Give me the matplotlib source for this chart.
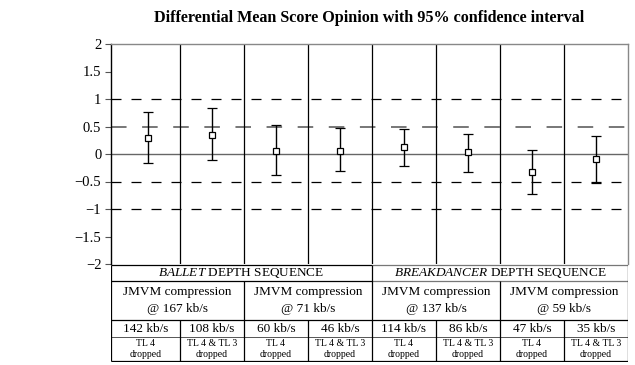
import matplotlib
matplotlib.use("Agg")
import matplotlib.pyplot as plt

plt.rcParams['font.family'] = ['Liberation Serif', 'DejaVu Serif']
plt.rcParams['mathtext.fontset'] = 'custom'
plt.rcParams['mathtext.it'] = 'Liberation Serif:italic'
plt.rcParams['mathtext.rm'] = 'Liberation Serif'

# data
means = [0.29, 0.35, 0.06, 0.06, 0.13, 0.04, -0.32, -0.09]
upper = [0.76, 0.84, 0.53, 0.47, 0.45, 0.36, 0.07, 0.33]
lower = [-0.16, -0.10, -0.38, -0.30, -0.21, -0.32, -0.72, -0.52]
yticks = [-2, -1.5, -1, -0.5, 0, 0.5, 1, 1.5, 2]
ytick_labels = ["\u22122", "\u22121.5", "\u22121", "\u22120.5", "0", "0.5", "1", "1.5", "2"]

sequences = [r"$\it{BALLET}$ DEPTH SEQUENCE", r"$\it{BREAKDANCER}$ DEPTH SEQUENCE"]
jmvm = ["JMVM compression\n@ 167 kb/s", "JMVM compression\n@ 71 kb/s",
        "JMVM compression\n@ 137 kb/s", "JMVM compression\n@ 59 kb/s"]
rates = ["142 kb/s", "108 kb/s", "60 kb/s", "46 kb/s",
         "114 kb/s", "86 kb/s", "47 kb/s", "35 kb/s"]
dropped = ["TL 4\ndropped", "TL 4 & TL 3\ndropped"] * 4

W, H = 635, 365
fig = plt.figure(figsize=(W / 100, H / 100), dpi=100)

# main plot
ax = fig.add_axes([111 / W, 1 - 264 / H, 517 / W, 220 / H])
x = list(range(len(means)))
err_lo = [m - l for m, l in zip(means, lower)]
err_hi = [u - m for m, u in zip(means, upper)]
ax.errorbar(x, means, yerr=[err_lo, err_hi], fmt='s', color='black',
            mfc='white', mec='black', ms=4.5, mew=0.9, elinewidth=1.0,
            capsize=3.5, capthick=1.8, zorder=5)

ax.set_xlim(-0.578, 7.5)
ax.set_ylim(-2, 2)
ax.set_yticks(yticks)
ax.set_yticklabels(ytick_labels)
ax.set_xticks([])
ax.tick_params(axis='y', direction='out', length=4, width=0.8,
               labelsize=10.5, pad=3, color='#555555')

for y in [1, -0.5, -1]:
    ax.axhline(y, color='black', lw=0.9, ls=(0, (8, 8)), zorder=1)
ax.axhline(0.5, color='#777777', lw=1.4, ls=(0, (8, 8)), zorder=1)
ax.axhline(0, color='#666666', lw=1.0, zorder=1)
for b in [0.5, 1.5, 2.5, 3.5, 4.5, 5.5, 6.5]:
    ax.axvline(b, color='black', lw=0.9, zorder=2)

for side in ['top', 'right']:
    ax.spines[side].set_color('#888888')
    ax.spines[side].set_linewidth(1.0)
ax.spines['left'].set_linewidth(1.0)
ax.spines['bottom'].set_visible(False)

ax.set_title("Differential Mean Score Opinion with 95% confidence interval",
             fontsize=11.6, fontweight='bold', pad=16)

# table below the plot, y in pixels from the table top
tab = fig.add_axes([111 / W, 1 - 362 / H, 517 / W, 98 / H])
tab.set_xlim(-0.578, 7.5)
tab.set_ylim(98, 0)
tab.axis('off')
lc = 'black'
r0, r1, r2, r3, r4 = 1, 17, 56, 73, 97
tab.hlines(r0, -0.578, 3.5, color=lc, lw=0.9)
tab.hlines(r0, 3.5, 7.5, color='#777777', lw=0.9)
tab.hlines(r1, -0.578, 3.5, color=lc, lw=0.9)
tab.hlines(r1, 3.5, 7.5, color='#777777', lw=0.9)
tab.hlines([r2, r4], -0.578, 7.5, color=lc, lw=0.9)
tab.hlines(r3, -0.578, 7.5, color='#555555', lw=0.7)
tab.vlines([-0.578, 3.5, 7.5], r0, r4, color=lc, lw=0.9)
tab.vlines([1.5, 5.5], r1, r4, color=lc, lw=0.9)
tab.vlines([0.5, 2.5, 4.5, 6.5], r2, r4, color=lc, lw=0.9)

seq_centers = [(-0.578 + 3.5) / 2, (3.5 + 7.5) / 2]
for cx, s in zip(seq_centers, sequences):
    tab.text(cx, (r0 + r1) / 2 + 0.5, s, ha='center', va='center', fontsize=9.5)
jm_centers = [(-0.578 + 1.5) / 2, 2.5, 4.5, 6.5]
for cx, s in zip(jm_centers, jmvm):
    tab.text(cx, (r1 + r2) / 2, s, ha='center', va='center', fontsize=9.5,
             linespacing=1.55)
col_centers = [(-0.578 + 0.5) / 2] + list(range(1, 8))
for cx, s in zip(col_centers, rates):
    tab.text(cx, (r2 + r3) / 2 + 0.5, s, ha='center', va='center', fontsize=9.5)
for cx, s in zip(col_centers, dropped):
    tab.text(cx, (r3 + r4) / 2, s, ha='center', va='center', fontsize=7,
             linespacing=1.15)

fig.savefig("out.png", dpi=100)
